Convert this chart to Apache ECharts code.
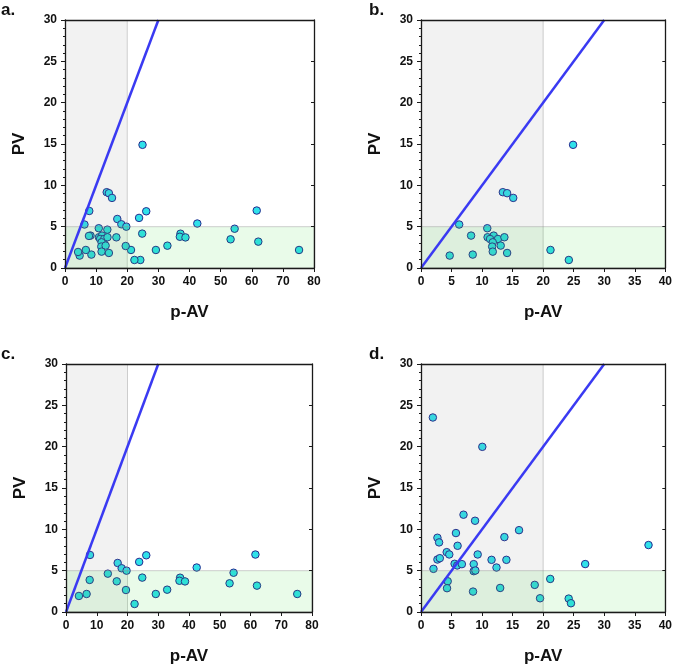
<!DOCTYPE html>
<html>
<head>
<meta charset="utf-8">
<script src="https://cdn.jsdelivr.net/npm/echarts@6/dist/echarts.min.js"></script>
<style>
html,body{margin:0;padding:0;background:#fff;}
#chart{width:675px;height:668px;}
</style>
</head>
<body>
<div id="chart"></div>
<script>
// ---- Data (p-AV, PV) ----
const panelLabels = ['a.', 'b.', 'c.', 'd.'];
const xAxisTitle = 'p-AV';
const yAxisTitle = 'PV';

// panel b points
const dataB = [
  [24.9, 14.9], [13.4, 9.17], [14.1, 9.05], [15.1, 8.48], [6.25, 5.26],
  [10.85, 4.81], [8.2, 3.92], [10.9, 3.72], [11.9, 3.92], [11.3, 3.51],
  [12.6, 3.51], [13.65, 3.72], [11.75, 3.11], [11.65, 2.59], [13.05, 2.71],
  [11.75, 1.98], [14.1, 1.82], [8.47, 1.62], [4.7, 1.5], [21.2, 2.18],
  [24.2, 0.97]
];
// panel c points
const dataC = [
  [7.8, 6.9], [26.1, 6.86], [61.6, 6.95], [23.8, 6.06], [16.8, 5.93],
  [18.1, 5.29], [19.7, 5.0], [42.5, 5.38], [54.5, 4.75], [13.6, 4.64],
  [7.7, 3.88], [16.5, 3.71], [24.8, 4.16], [37.1, 4.15], [36.9, 3.78],
  [38.7, 3.7], [53.2, 3.47], [62.1, 3.19], [75.2, 2.18], [19.5, 2.66],
  [32.9, 2.7], [29.2, 2.18], [6.7, 2.18], [4.2, 1.94], [22.3, 0.97]
];
// panel a = union of b and c
const dataA = dataB.concat(dataC);
// panel d points
const dataD = [
  [1.94, 23.53], [10.04, 19.98], [6.96, 11.77], [8.85, 11.04], [16.05, 9.9],
  [2.69, 8.98], [2.96, 8.42], [5.72, 9.55], [5.99, 8.01], [13.65, 9.06],
  [4.21, 7.24], [4.63, 6.96], [9.28, 6.96], [2.69, 6.35], [3.08, 6.51],
  [11.55, 6.31], [13.98, 6.31], [5.5, 5.83], [5.93, 5.63], [6.69, 5.79],
  [8.63, 5.79], [12.36, 5.38], [2.04, 5.22], [8.63, 4.94], [8.9, 5.02],
  [26.88, 5.8], [37.25, 8.1], [4.37, 3.72], [4.26, 2.88], [8.52, 2.47],
  [12.96, 2.91], [18.62, 3.28], [21.16, 4.0], [19.49, 1.66], [24.18, 1.62],
  [24.55, 1.06]
];

const xMaxes = [80, 40, 80, 40];
const xSteps = [10, 5, 10, 5];
const yMax = 30, yStep = 5;
const pvThreshold = 5;      // horizontal shaded band: PV < 5
const pavThreshold = 20;    // vertical shaded band: p-AV < 20
const diagonalEnds = [0, 30]; // identity line PV = p-AV

// ---- Layout ----
const grids = [
  {left: 65, top: 20, width: 249, height: 248},
  {left: 421, top: 20, width: 247, height: 248},
  {left: 66, top: 364, width: 246, height: 248},
  {left: 421, top: 364, width: 247, height: 248}
];
const labelPos = [[1, 2], [369, 2], [1, 346], [369, 346]];
const panelData = [dataA, dataB, dataC, dataD];

const FONT = '"Liberation Sans", Arial, sans-serif';
const axisColor = '#1a1a1a';

const xAxes = [], yAxes = [], series = [], titles = [];
panelData.forEach((d, i) => {
  const xi = i * 2, yi = i * 2;
  xAxes.push({
    gridIndex: i, type: 'value', min: 0, max: xMaxes[i], interval: xSteps[i],
    position: 'bottom', z: 10,
    name: xAxisTitle, nameLocation: 'middle', nameGap: 36,
    nameTextStyle: {fontFamily: FONT, fontWeight: 'bold', fontSize: 17, color: '#111'},
    axisLine: {show: true, onZero: false, lineStyle: {color: axisColor, width: 1.3}},
    axisTick: {show: true, inside: false, length: 4, lineStyle: {color: axisColor, width: 1}},
    axisLabel: {fontFamily: FONT, fontWeight: 'bold', fontSize: 12, color: '#111', margin: 8},
    splitLine: {show: false}
  });
  xAxes.push({
    gridIndex: i, type: 'value', min: 0, max: xMaxes[i], interval: xSteps[i],
    position: 'top', z: 10,
    axisLine: {show: true, onZero: false, lineStyle: {color: axisColor, width: 1.3}},
    axisTick: {show: false}, axisLabel: {show: false}, splitLine: {show: false}
  });
  yAxes.push({
    gridIndex: i, type: 'value', min: 0, max: yMax, interval: yStep,
    position: 'left', z: 10,
    name: yAxisTitle, nameLocation: 'middle', nameGap: 37, nameRotate: 90,
    nameTextStyle: {fontFamily: FONT, fontWeight: 'bold', fontSize: 17, color: '#111'},
    axisLine: {show: true, onZero: false, lineStyle: {color: axisColor, width: 1.3}},
    axisTick: {show: true, inside: false, length: 4, lineStyle: {color: axisColor, width: 1}},
    minorTick: {show: true, splitNumber: 5, length: 2, lineStyle: {color: axisColor, width: 1}},
    axisLabel: {fontFamily: FONT, fontWeight: 'bold', fontSize: 12, color: '#111', margin: 8},
    splitLine: {show: false}, minorSplitLine: {show: false}
  });
  yAxes.push({
    gridIndex: i, type: 'value', min: 0, max: yMax, interval: yStep,
    position: 'right', z: 10,
    axisLine: {show: true, onZero: false, lineStyle: {color: axisColor, width: 1.3}},
    axisTick: {show: true, inside: true, length: 3, lineStyle: {color: axisColor, width: 1}},
    axisLabel: {show: false}, splitLine: {show: false}
  });

  series.push({
    type: 'scatter', xAxisIndex: xi, yAxisIndex: yi, z: 2,
    data: d, symbol: 'circle', symbolSize: 7.5,
    itemStyle: {color: '#2fe1ea', borderColor: '#25298f', borderWidth: 1, opacity: 1},
    emphasis: {disabled: true}
  });
  series.push({
    type: 'custom', xAxisIndex: xi, yAxisIndex: yi, z: 4, silent: true,
    clip: true,
    data: [
      [0, pavThreshold, 0, yMax, 0],
      [0, xMaxes[i], 0, pvThreshold, 1]
    ],
    encode: {x: [0, 1], y: [2, 3]},
    renderItem: function (params, api) {
      const p0 = api.coord([api.value(0), api.value(3)]);
      const p1 = api.coord([api.value(1), api.value(2)]);
      const kind = api.value(4);
      return {
        type: 'rect',
        shape: {x: p0[0], y: p0[1], width: p1[0] - p0[0], height: p1[1] - p0[1]},
        style: {
          fill: kind === 0 ? 'rgba(128,128,128,0.1)' : 'rgba(40,220,40,0.1)',
          stroke: 'rgba(140,140,140,0.4)', lineWidth: 1
        }
      };
    }
  });
  series.push({
    type: 'line', xAxisIndex: xi, yAxisIndex: yi, z: 6, silent: true,
    data: diagonalEnds.map(v => [v, v]),
    symbol: 'none', clip: true,
    lineStyle: {color: '#3a3af2', width: 2.5}
  });

  titles.push({
    text: panelLabels[i], left: labelPos[i][0], top: labelPos[i][1], padding: 0,
    textStyle: {fontFamily: FONT, fontWeight: 'bold', fontSize: 17, color: '#111'}
  });
});

const chart = echarts.init(document.getElementById('chart'), null, {renderer: 'canvas'});
chart.setOption({
  animation: false,
  backgroundColor: '#ffffff',
  title: titles,
  grid: grids,
  xAxis: xAxes,
  yAxis: yAxes,
  series: series
});
</script>
</body>
</html>
